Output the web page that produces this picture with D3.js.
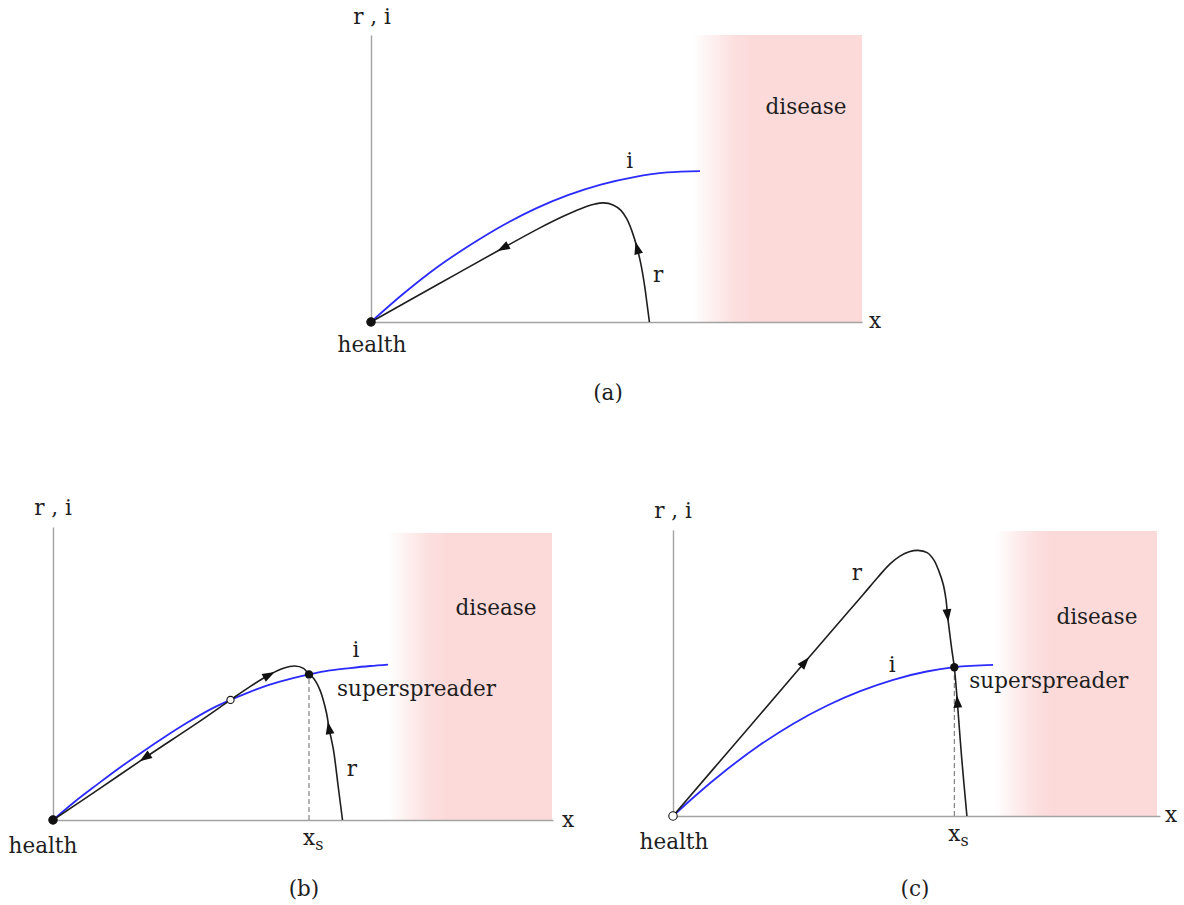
<!DOCTYPE html>
<html>
<head>
<meta charset="utf-8">
<script src="https://cdn.jsdelivr.net/npm/d3@7"></script>
<style>
  body { margin: 0; background: #fff; }
  svg text { font-family: "DejaVu Serif", serif; fill: #1e1e1e; }
</style>
</head>
<body>
<svg id="fig" width="1184" height="905"></svg>
<script>
// ---- phase-plane data (x along the horizontal axis, r / i vertical; both in 0..10 units) ----

// panel (a): one healthy fixed point, trajectory returns to health
const iCurveA = [[0,0],[0.67,1.00],[1.34,1.90],[2.02,2.68],[2.69,3.37],[3.35,3.95],[4.01,4.42],[4.68,4.79],[5.36,5.05],[6.03,5.21],[6.70,5.26]];
const rCurveA = [[5.67,0],[5.62,0.66],[5.57,1.29],[5.50,1.99],[5.42,2.58],[5.32,3.14],[5.21,3.59],[5.09,3.89],[4.93,4.08],[4.73,4.15],[4.56,4.11],[4.36,4.01],[3.95,3.71],[3.44,3.28],[2.69,2.58],[1.34,1.29],[0,0]];
const arrowsA = [[5.42,2.58,1],[2.69,2.58,1]];

// panel (b): health stable, unstable crossing, superspreader stable
const iCurveB = [[0,0],[0.44,0.64],[0.88,1.22],[1.34,1.81],[1.78,2.34],[2.24,2.87],[2.68,3.35],[3.12,3.79],[3.55,4.14],[3.94,4.42],[4.32,4.66],[4.82,4.90],[5.12,5.02],[5.54,5.16],[5.94,5.24],[6.34,5.31],[6.70,5.36]];
const rCurveB = [[5.79,0],[5.70,1.21],[5.61,2.41],[5.52,3.17],[5.47,3.69],[5.34,4.48],[5.21,4.89],[5.12,5.02],[5.01,5.23],[4.83,5.31],[4.61,5.23],[4.32,5.00],[3.94,4.60],[3.55,4.14],[2.94,3.41],[1.84,2.15],[0.94,1.09],[0,0]];
const arrowsB = [[5.52,3.17,1],[4.32,5.00,-1],[1.84,2.15,1]];
const superspreaderB = [5.12, 5.02];
const unstableB = [3.55, 4.14];

// panel (c): health unstable, superspreader the only attractor
const iCurveC = [[0,0],[0.42,0.65],[1.11,1.63],[1.79,2.49],[2.48,3.24],[3.17,3.87],[3.86,4.38],[4.54,4.78],[5.23,5.07],[5.80,5.22],[6.60,5.30]];
const rCurveC = [[0,0],[1.38,2.74],[2.72,5.40],[3.60,7.14],[3.93,7.79],[4.22,8.37],[4.47,8.84],[4.68,9.12],[4.87,9.27],[5.05,9.32],[5.24,9.24],[5.38,8.98],[5.48,8.60],[5.57,8.14],[5.63,7.58],[5.66,7.05],[5.71,6.35],[5.75,5.82],[5.80,5.22],[5.86,4.07],[5.95,2.08],[6.06,0]];
const arrowsC = [[2.72,5.40,1],[5.66,7.05,1],[5.88,4.01,-1]];
const superspreaderC = [5.80, 5.22];

// disease zone: [fade start, fade end, right edge, top]
const diseaseA = [6.55, 7.75, 10, 10];
const diseaseB = [6.70, 7.85, 9.98, 9.9];
const diseaseC = [6.64, 7.80, 9.98, 10];

const captions = ["(a)", "(b)", "(c)"];
const axisLabelY = "r , i";
const axisLabelX = "x";

// ---- layout ----
const FS = 21.5;
const panels = [
  { box: [371, 862, 322, 35], axisEnd: [10, 10],
    i: iCurveA, r: rCurveA, arrows: arrowsA, disease: diseaseA,
    healthOpen: false, ss: null, unstable: null,
    iLabel: [5.27, 5.61], rLabel: [5.85, 1.64], disLabel: [8.86, 7.49], ssLabel: null,
    yLab: [372, 24], xLab: [875, 328], health: [372, 352], caption: [608, 400] },
  { box: [53, 553, 820, 530], axisEnd: [10, 10.1],
    i: iCurveB, r: rCurveB, arrows: arrowsB, disease: diseaseB,
    healthOpen: false, ss: superspreaderB, unstable: unstableB,
    iLabel: [6.06, 5.86], rLabel: [5.98, 1.76], disLabel: [8.86, 7.31], ssLabel: [5.68, 4.52],
    yLab: [53, 515], xLab: [568, 827], health: [43, 853], caption: [304, 896], xsBase: 845 },
  { box: [673, 1158, 816, 531], axisEnd: [10.04, 10.04],
    i: iCurveC, r: rCurveC, arrows: arrowsC, disease: diseaseC,
    healthOpen: true, ss: superspreaderC, unstable: null,
    iLabel: [4.52, 5.30], rLabel: [3.79, 8.52], disLabel: [8.74, 6.99], ssLabel: [6.11, 4.74],
    yLab: [673, 518], xLab: [1171, 822], health: [674, 849], caption: [915, 896], xsBase: 841 }
];

const svg = d3.select("#fig");
const defs = svg.append("defs");
const PINK = "#fcdada";

panels.forEach((p, k) => {
  const [L, R, B, T] = p.box;
  const x = d3.scaleLinear().domain([0, 10]).range([L, R]);
  const y = d3.scaleLinear().domain([0, 10]).range([B, T]);
  const g = svg.append("g");

  // disease region with a soft left edge
  const [d0, d1, d2, dTop] = p.disease;
  const gid = "fade" + k;
  const grad = defs.append("linearGradient").attr("id", gid)
    .attr("gradientUnits", "userSpaceOnUse")
    .attr("x1", x(d0)).attr("x2", x(d1)).attr("y1", 0).attr("y2", 0);
  [[0, 0], [0.35, 0.45], [0.7, 0.85], [1, 1]].forEach(([o, a]) =>
    grad.append("stop").attr("offset", o).attr("stop-color", PINK).attr("stop-opacity", a));
  g.append("rect")
    .attr("x", x(d0)).attr("y", y(dTop))
    .attr("width", x(d2) - x(d0)).attr("height", y(0) - y(dTop))
    .attr("fill", `url(#${gid})`);

  // axes (no ticks, just the two lines)
  const xa = x.copy().domain([0, p.axisEnd[0]]).range([x(0), x(p.axisEnd[0])]);
  const ya = y.copy().domain([0, p.axisEnd[1]]).range([y(0), y(p.axisEnd[1])]);
  const gx = g.append("g").attr("transform", `translate(0,${y(0)})`)
    .call(d3.axisBottom(xa).tickValues([]).tickSizeOuter(0));
  const gy = g.append("g").attr("transform", `translate(${x(0)},0)`)
    .call(d3.axisLeft(ya).tickValues([]).tickSizeOuter(0));
  [gx, gy].forEach(a => a.select(".domain").attr("stroke", "#a3a3a3").attr("stroke-width", 1.4));

  const iLine = d3.line().x(d => x(d[0])).y(d => y(d[1])).curve(d3.curveMonotoneX);
  const rLine = d3.line().x(d => x(d[0])).y(d => y(d[1])).curve(d3.curveCatmullRom.alpha(0.5));

  // dashed drop line under the superspreader point
  if (p.ss) {
    g.append("line")
      .attr("x1", x(p.ss[0])).attr("x2", x(p.ss[0]))
      .attr("y1", y(0)).attr("y2", y(p.ss[1]))
      .attr("stroke", "#6a6a6a").attr("stroke-width", 1).attr("stroke-dasharray", "5,3");
  }

  // i nullcline
  g.append("path").datum(p.i).attr("d", iLine)
    .attr("fill", "none").attr("stroke", "#2b2bff").attr("stroke-width", 1.8);

  // r trajectory
  const rPath = g.append("path").datum(p.r).attr("d", rLine)
    .attr("fill", "none").attr("stroke", "#1e1e1e").attr("stroke-width", 1.6);

  // direction arrows placed on the trajectory
  const node = rPath.node();
  const total = node.getTotalLength();
  p.arrows.forEach(([ax, ay, dir]) => {
    const tx = x(ax), ty = y(ay);
    let best = 0, bestD = Infinity;
    for (let s = 0; s <= total; s += 0.5) {
      const q = node.getPointAtLength(s);
      const dd = (q.x - tx) ** 2 + (q.y - ty) ** 2;
      if (dd < bestD) { bestD = dd; best = s; }
    }
    const q0 = node.getPointAtLength(Math.max(0, best - 2));
    const q1 = node.getPointAtLength(Math.min(total, best + 2));
    const c = node.getPointAtLength(best);
    const ang = Math.atan2(q1.y - q0.y, q1.x - q0.x) * 180 / Math.PI + (dir < 0 ? 180 : 0);
    g.append("path")
      .attr("d", "M6.5,0 L-6,-4.4 L-6,4.4 Z")
      .attr("transform", `translate(${c.x},${c.y}) rotate(${ang})`)
      .attr("fill", "#111");
  });

  // fixed points
  g.append("circle").attr("cx", x(0)).attr("cy", y(0)).attr("r", 4.2)
    .attr("fill", p.healthOpen ? "#fff" : "#111").attr("stroke", "#111").attr("stroke-width", 1.1);
  if (p.unstable) {
    g.append("circle").attr("cx", x(p.unstable[0])).attr("cy", y(p.unstable[1])).attr("r", 3.6)
      .attr("fill", "#fff").attr("stroke", "#111").attr("stroke-width", 1.1);
  }
  if (p.ss) {
    g.append("circle").attr("cx", x(p.ss[0])).attr("cy", y(p.ss[1])).attr("r", 4.2).attr("fill", "#111");
  }

  // labels
  const txt = (px, py, s, anchor, size) => g.append("text")
    .attr("x", px).attr("y", py).attr("text-anchor", anchor || "middle")
    .attr("font-size", size || FS).text(s);

  txt(x(p.iLabel[0]), y(p.iLabel[1]) + 7, "i");
  txt(x(p.rLabel[0]), y(p.rLabel[1]) + 7, "r");
  txt(x(p.disLabel[0]), y(p.disLabel[1]) + 7, "disease");
  if (p.ssLabel) txt(x(p.ssLabel[0]), y(p.ssLabel[1]) + 7, "superspreader", "start");
  txt(p.yLab[0], p.yLab[1], axisLabelY);
  txt(p.xLab[0], p.xLab[1], axisLabelX);
  txt(p.health[0], p.health[1], "health");
  txt(p.caption[0], p.caption[1], captions[k]);

  if (p.ss) {
    const t = g.append("text").attr("x", x(p.ss[0]) - 6).attr("y", p.xsBase).attr("font-size", FS);
    t.append("tspan").text("x");
    t.append("tspan").attr("dy", 5).attr("font-size", 16).text("s");
  }
});
</script>
</body>
</html>
